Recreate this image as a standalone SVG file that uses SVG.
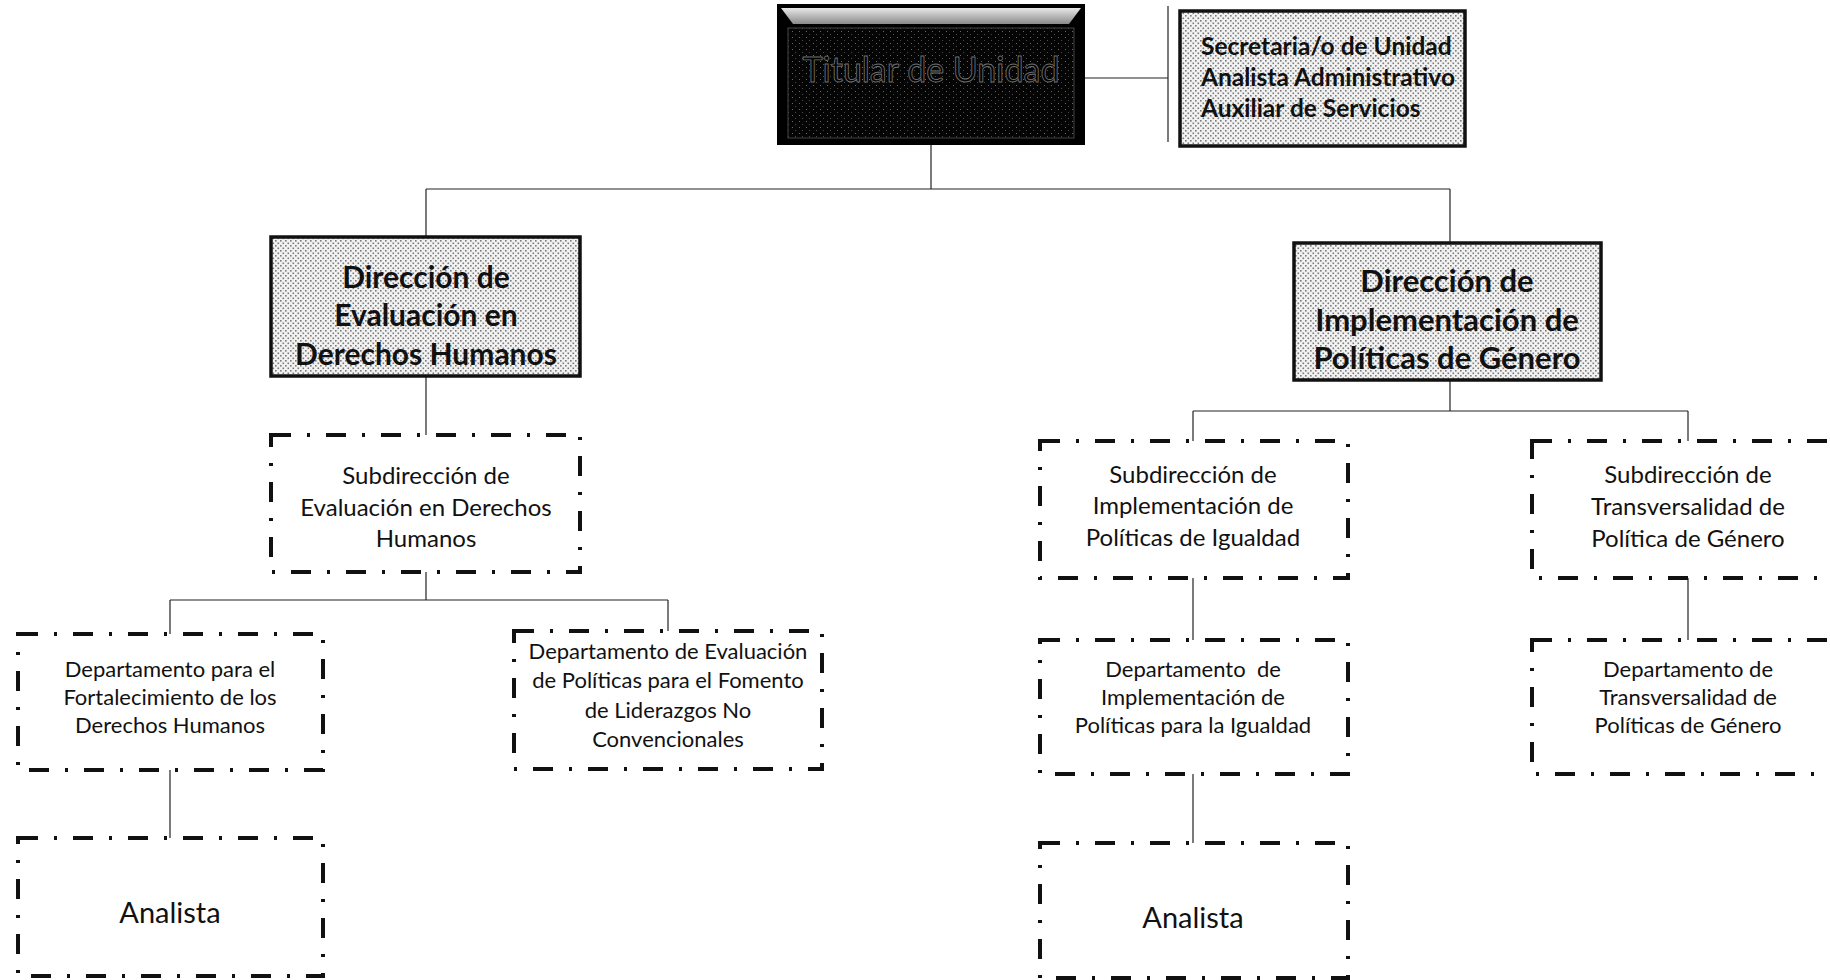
<svg xmlns="http://www.w3.org/2000/svg" width="1830" height="980" viewBox="0 0 1830 980">
<defs>
  <pattern id="dots" width="5" height="5" patternUnits="userSpaceOnUse">
    <rect width="5" height="5" fill="#f2f2f2"/>
    <rect x="0" y="0" width="1.6" height="1.6" fill="#7a7a7a"/>
    <rect x="2.5" y="2.5" width="1.6" height="1.6" fill="#7a7a7a"/>
  </pattern>
  <pattern id="speck" width="7" height="6" patternUnits="userSpaceOnUse">
    <rect width="7" height="6" fill="#050505"/>
    <rect x="1" y="1" width="1" height="1" fill="#6a6a6a"/>
    <rect x="4" y="4" width="1" height="1" fill="#4a4a4a"/>
  </pattern>
  <linearGradient id="bevel" x1="0" y1="0" x2="0" y2="1">
    <stop offset="0" stop-color="#e8e8e8"/>
    <stop offset="1" stop-color="#8a8a8a"/>
  </linearGradient>
  <style>
    .conn { fill: none; stroke: #222; stroke-width: 1.2; }
    .dd { fill: #ffffff; stroke: #111; stroke-width: 4; stroke-dasharray: 20 16 3 16; }
    .dir { fill: url(#dots); stroke: #111; stroke-width: 3.5; }
    .bt { font-family: Lato, "Liberation Sans", sans-serif; font-weight: bold; fill: #111; }
    .bc { text-anchor: middle; }
    .nt { font-family: Lato, "Liberation Sans", sans-serif; fill: #111; text-anchor: middle; }
  </style>
</defs>

<g id="connectors">
  <line class="conn" x1="1085" y1="78" x2="1168" y2="78"/>
  <line class="conn" x1="1168" y1="6" x2="1168" y2="142"/>
  <line class="conn" x1="931" y1="145" x2="931" y2="189"/>
  <line class="conn" x1="426" y1="189" x2="1450" y2="189"/>
  <line class="conn" x1="426" y1="189" x2="426" y2="237"/>
  <line class="conn" x1="1450" y1="189" x2="1450" y2="243"/>
  <line class="conn" x1="426" y1="376" x2="426" y2="435"/>
  <line class="conn" x1="426" y1="572" x2="426" y2="600"/>
  <line class="conn" x1="170" y1="600" x2="668" y2="600"/>
  <line class="conn" x1="170" y1="600" x2="170" y2="634"/>
  <line class="conn" x1="668" y1="600" x2="668" y2="631"/>
  <line class="conn" x1="170" y1="770" x2="170" y2="838"/>
  <line class="conn" x1="1450" y1="380" x2="1450" y2="411"/>
  <line class="conn" x1="1193" y1="411" x2="1688" y2="411"/>
  <line class="conn" x1="1193" y1="411" x2="1193" y2="441"/>
  <line class="conn" x1="1688" y1="411" x2="1688" y2="441"/>
  <line class="conn" x1="1193" y1="578" x2="1193" y2="640"/>
  <line class="conn" x1="1688" y1="578" x2="1688" y2="640"/>
  <line class="conn" x1="1193" y1="774" x2="1193" y2="843"/>
</g>

<g id="titular">
  <rect x="777" y="4" width="308" height="141" fill="#000"/>
  <polygon points="781,8 1081,8 1069,24 793,24" fill="url(#bevel)"/>
  <rect x="788" y="28" width="286" height="110" fill="url(#speck)" stroke="#444" stroke-width="1"/>
  <text x="931" y="82" font-family="Lato, 'Liberation Sans', sans-serif" font-size="34" text-anchor="middle" fill="#000" stroke="#6e6e6e" stroke-width="0.9">Titular de Unidad</text>
</g>

<g id="secretaria">
  <rect x="1180" y="11" width="285" height="135" class="dir"/>
  <text class="bt" x="1201" y="55" font-size="24.5">Secretaria/o de Unidad</text>
  <text class="bt" x="1201" y="86" font-size="24.5">Analista Administrativo</text>
  <text class="bt" x="1201" y="117" font-size="24.5">Auxiliar de Servicios</text>
</g>

<g id="dir-evaluacion">
  <rect x="271" y="237" width="309" height="139" class="dir"/>
  <text class="bt bc" x="426" y="288" font-size="30">Dirección de</text>
  <text class="bt bc" x="426" y="326" font-size="30">Evaluación en</text>
  <text class="bt bc" x="426" y="365" font-size="30">Derechos Humanos</text>
</g>

<g id="dir-implementacion">
  <rect x="1294" y="243" width="307" height="137" class="dir"/>
  <text class="bt bc" x="1447" y="292" font-size="31">Dirección de</text>
  <text class="bt bc" x="1447" y="331" font-size="31">Implementación de</text>
  <text class="bt bc" x="1447" y="369" font-size="31">Políticas de Género</text>
</g>

<g id="subdir-evaluacion">
  <rect x="271" y="435" width="309" height="137" class="dd"/>
  <text class="nt" x="426" y="484" font-size="24">Subdirección de</text>
  <text class="nt" x="426" y="516" font-size="24">Evaluación en Derechos</text>
  <text class="nt" x="426" y="547" font-size="24">Humanos</text>
</g>

<g id="dept-fortalecimiento">
  <rect x="18" y="634" width="305" height="136" class="dd"/>
  <text class="nt" x="170" y="677" font-size="22">Departamento para el</text>
  <text class="nt" x="170" y="705" font-size="22">Fortalecimiento de los</text>
  <text class="nt" x="170" y="733" font-size="22">Derechos Humanos</text>
</g>

<g id="dept-evaluacion">
  <rect x="514" y="631" width="308" height="138" class="dd"/>
  <text class="nt" x="668" y="659" font-size="22">Departamento de Evaluación</text>
  <text class="nt" x="668" y="688" font-size="22">de Políticas para el Fomento</text>
  <text class="nt" x="668" y="718" font-size="22">de Liderazgos No</text>
  <text class="nt" x="668" y="747" font-size="22">Convencionales</text>
</g>

<g id="analista-1">
  <rect x="18" y="838" width="305" height="138" class="dd"/>
  <text class="nt" x="170" y="923" font-size="29">Analista</text>
</g>

<g id="subdir-implementacion">
  <rect x="1040" y="441" width="308" height="137" class="dd"/>
  <text class="nt" x="1193" y="483" font-size="24">Subdirección de</text>
  <text class="nt" x="1193" y="514" font-size="24">Implementación de</text>
  <text class="nt" x="1193" y="546" font-size="24">Políticas de Igualdad</text>
</g>

<g id="subdir-transversalidad">
  <rect x="1532" y="441" width="312" height="137" class="dd"/>
  <text class="nt" x="1688" y="483" font-size="24">Subdirección de</text>
  <text class="nt" x="1688" y="515" font-size="24">Transversalidad de</text>
  <text class="nt" x="1688" y="547" font-size="24">Política de Género</text>
</g>

<g id="dept-implementacion">
  <rect x="1040" y="640" width="308" height="134" class="dd"/>
  <text class="nt" x="1193" y="677" font-size="22" xml:space="preserve">Departamento  de</text>
  <text class="nt" x="1193" y="705" font-size="22">Implementación de</text>
  <text class="nt" x="1193" y="733" font-size="22">Políticas para la Igualdad</text>
</g>

<g id="dept-transversalidad">
  <rect x="1532" y="640" width="312" height="134" class="dd"/>
  <text class="nt" x="1688" y="677" font-size="22">Departamento de</text>
  <text class="nt" x="1688" y="705" font-size="22">Transversalidad de</text>
  <text class="nt" x="1688" y="733" font-size="22">Políticas de Género</text>
</g>

<g id="analista-2">
  <rect x="1040" y="843" width="308" height="135" class="dd"/>
  <text class="nt" x="1193" y="928" font-size="29">Analista</text>
</g>
</svg>
